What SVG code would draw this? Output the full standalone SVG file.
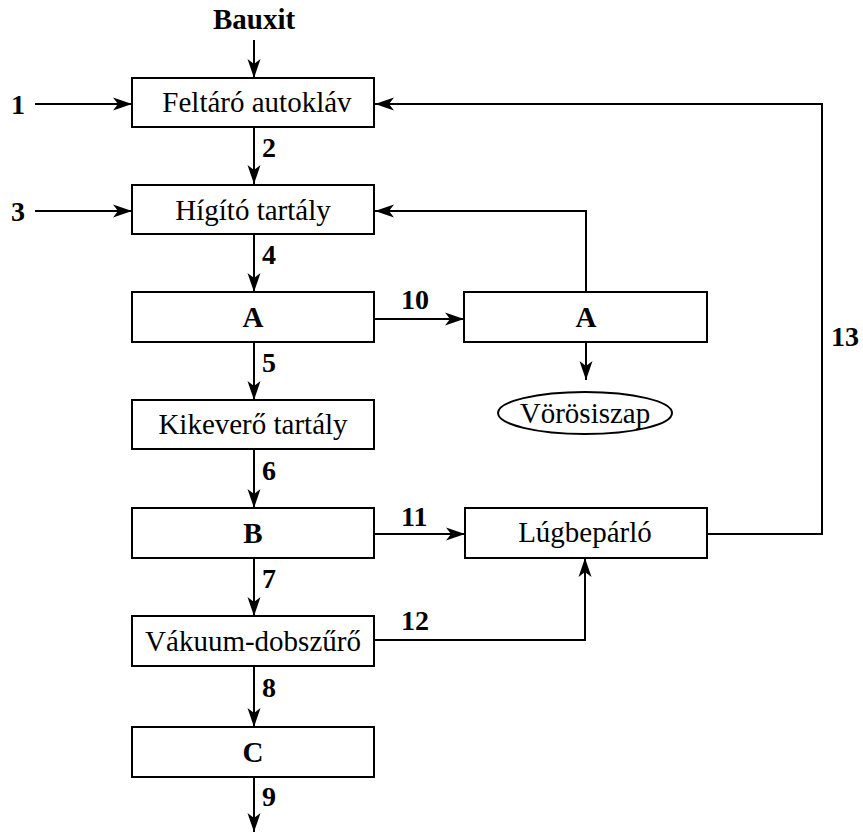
<svg xmlns="http://www.w3.org/2000/svg" width="863" height="835" viewBox="0 0 863 835">
  <style>
    .box { fill: #fff; stroke: #000; stroke-width: 2; }
    .ln { fill: none; stroke: #000; stroke-width: 2; }
    text { font-family: 'Liberation Serif', serif; font-size: 29px; fill: #000; }
    .t { text-anchor: middle; }
    .b { font-weight: bold; }
    .n { font-weight: bold; font-size: 28px; }
  </style>
  <defs>
    <marker id="arr" markerUnits="userSpaceOnUse" markerWidth="22" markerHeight="16" viewBox="-20 -8 22 16" refX="0" refY="0" orient="auto">
      <path d="M0,0 L-19,-6.5 L-14,0 L-19,6.5 Z" fill="#000"/>
    </marker>
  </defs>

  <rect width="863" height="835" fill="#fff"/>

  <!-- connectors -->
  <g id="connectors">
    <line class="ln" x1="254" y1="40" x2="254" y2="78" marker-end="url(#arr)"/>
    <line class="ln" x1="35" y1="104" x2="132" y2="104" marker-end="url(#arr)"/>
    <line class="ln" x1="254" y1="127" x2="254" y2="184" marker-end="url(#arr)"/>
    <line class="ln" x1="35" y1="211" x2="132" y2="211" marker-end="url(#arr)"/>
    <line class="ln" x1="254" y1="234" x2="254" y2="292" marker-end="url(#arr)"/>
    <line class="ln" x1="374" y1="319" x2="464" y2="319" marker-end="url(#arr)"/>
    <polyline class="ln" points="586,292 586,211 375,211" marker-end="url(#arr)"/>
    <line class="ln" x1="586" y1="342" x2="586" y2="380" marker-end="url(#arr)"/>
    <line class="ln" x1="254" y1="342" x2="254" y2="400" marker-end="url(#arr)"/>
    <line class="ln" x1="254" y1="450" x2="254" y2="508" marker-end="url(#arr)"/>
    <line class="ln" x1="374" y1="534" x2="465" y2="534" marker-end="url(#arr)"/>
    <polyline class="ln" points="707,534 822,534 822,104 375,104" marker-end="url(#arr)"/>
    <line class="ln" x1="254" y1="558" x2="254" y2="616" marker-end="url(#arr)"/>
    <polyline class="ln" points="374,640 585,640 585,558" marker-end="url(#arr)"/>
    <line class="ln" x1="254" y1="666" x2="254" y2="727" marker-end="url(#arr)"/>
    <line class="ln" x1="254" y1="777" x2="254" y2="832" marker-end="url(#arr)"/>
  </g>

  <!-- stream numbers -->
  <g id="labels">
    <text class="t b" x="254" y="29">Bauxit</text>
    <text class="n" x="11" y="114">1</text>
    <text class="n" x="262" y="157">2</text>
    <text class="n" x="11" y="221">3</text>
    <text class="n" x="262" y="264">4</text>
    <text class="n" x="401" y="309">10</text>
    <text class="n" x="262" y="372">5</text>
    <text class="n" x="262" y="480">6</text>
    <text class="n" x="401" y="526">11</text>
    <text class="n" x="262" y="588">7</text>
    <text class="n" x="401" y="630">12</text>
    <text class="n" x="262" y="697">8</text>
    <text class="n" x="262" y="806">9</text>
    <text class="n" x="831" y="346">13</text>
  </g>

  <!-- process units -->
  <g id="feltaro">
    <rect class="box" x="132" y="78" width="242" height="49"/>
    <text class="t" x="257" y="112">Feltáró autokláv</text>
  </g>
  <g id="higito">
    <rect class="box" x="132" y="185" width="242" height="49"/>
    <text class="t" x="253" y="220">Hígító tartály</text>
  </g>
  <g id="a1">
    <rect class="box" x="132" y="292" width="242" height="50"/>
    <text class="t b" x="253" y="327">A</text>
  </g>
  <g id="a2">
    <rect class="box" x="464" y="292" width="243" height="50"/>
    <text class="t b" x="586" y="327">A</text>
  </g>
  <g id="vorosiszap">
    <ellipse class="box" cx="585" cy="413" rx="87" ry="21"/>
    <text class="t" x="585" y="423">Vörösiszap</text>
  </g>
  <g id="kikevero">
    <rect class="box" x="132" y="400" width="242" height="49"/>
    <text class="t" x="253" y="434">Kikeverő tartály</text>
  </g>
  <g id="b">
    <rect class="box" x="132" y="508" width="242" height="50"/>
    <text class="t b" x="253" y="543">B</text>
  </g>
  <g id="lugbeparlo">
    <rect class="box" x="465" y="508" width="242" height="50"/>
    <text class="t" x="585" y="542">Lúgbepárló</text>
  </g>
  <g id="vakuum">
    <rect class="box" x="132" y="616" width="242" height="50"/>
    <text class="t" x="253" y="651">Vákuum-dobszűrő</text>
  </g>
  <g id="c">
    <rect class="box" x="132" y="727" width="242" height="50"/>
    <text class="t b" x="253" y="762">C</text>
  </g>
</svg>
